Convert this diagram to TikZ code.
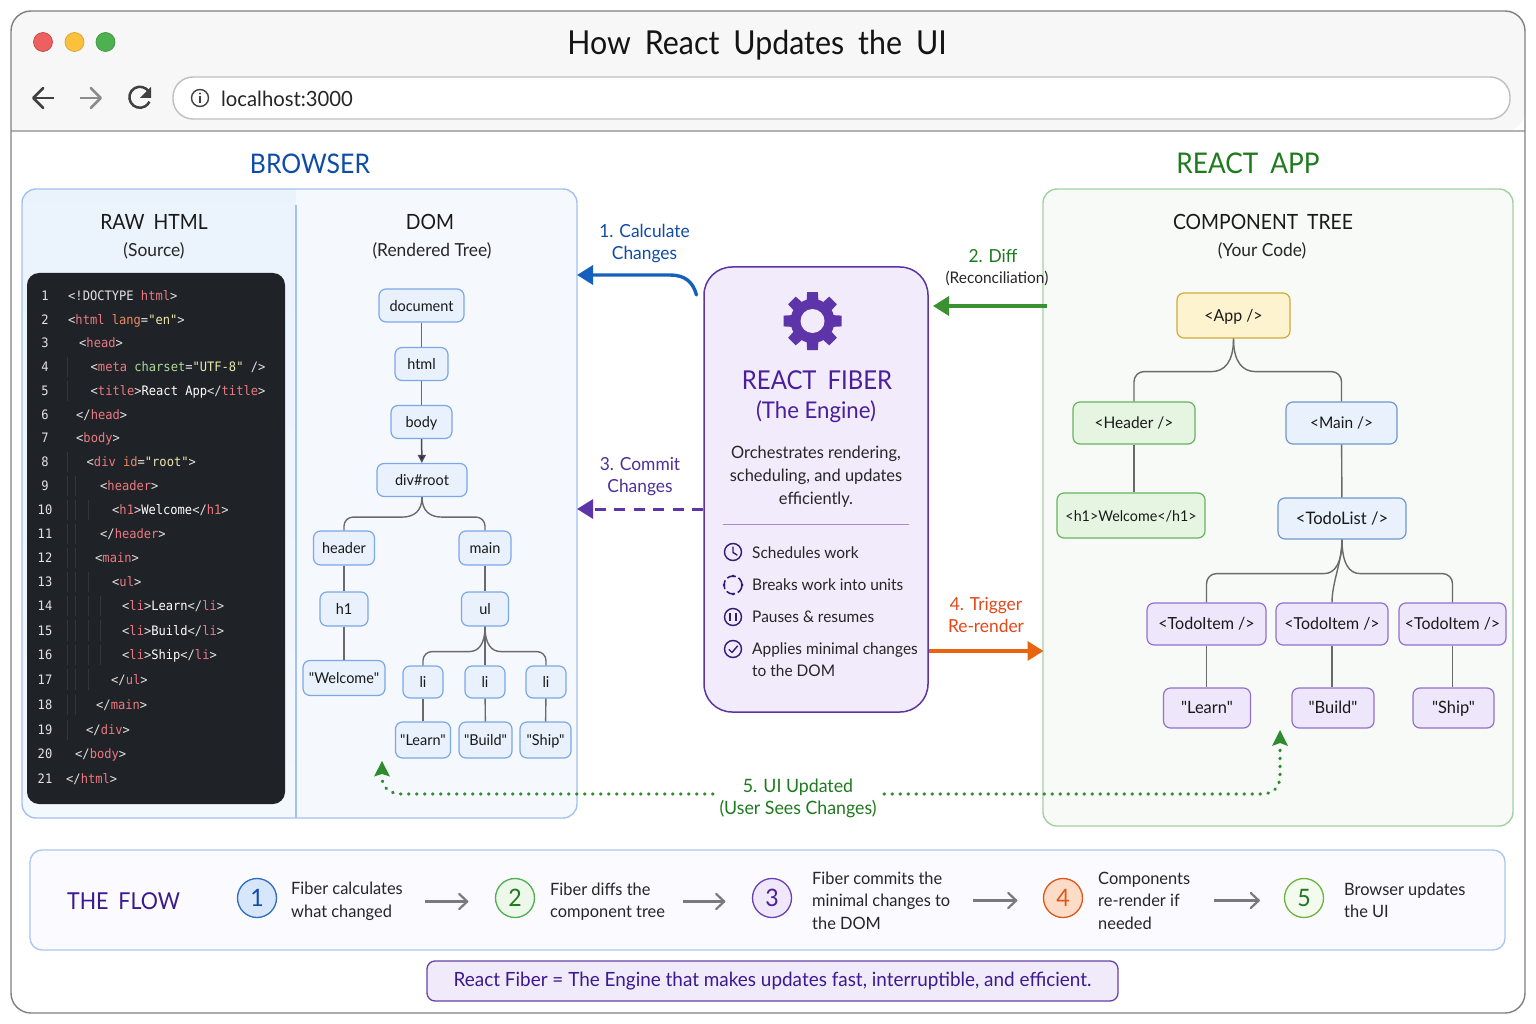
\documentclass[tikz,border=0pt]{standalone}
\usepackage{fontspec}
\usetikzlibrary{arrows.meta,calc}
\setmainfont[Ligatures=TeXOff,FakeStretch=0.965]{Lato}
\newfontfamily\rkhead[Ligatures=TeXOff,WordSpace=1.8,FakeStretch=0.92]{Lato}
\newfontfamily\rkcode[FakeStretch=0.93]{DejaVu Sans Mono}
\newcommand{\rkfs}[2]{\fontsize{#1}{#2}\selectfont}
\definecolor{codepink}{HTML}{EC7880}
\definecolor{codebrk}{HTML}{E2E2E2}
\definecolor{codeattr}{HTML}{EC8A62}
\definecolor{codegrn}{HTML}{ACDA9E}
\definecolor{codestr}{HTML}{EDE7AE}
\definecolor{codebg}{HTML}{1F2327}
\definecolor{fiberpurple}{HTML}{4A1F99}
\definecolor{flowpurple}{HTML}{3A1A8E}
\definecolor{gearpurple}{HTML}{5E35A8}
\definecolor{headblue}{HTML}{0F4CA8}
\definecolor{headgreen}{HTML}{1E7A1E}
\newcommand{\rkT}[1]{\textcolor{codepink}{#1}}
\newcommand{\rkA}[1]{\textcolor{codeattr}{#1}}
\newcommand{\rkG}[1]{\textcolor{codegrn}{#1}}
\newcommand{\rkS}[1]{\textcolor{codestr}{#1}}
\newcommand{\rkW}[1]{\textcolor{white}{#1}}
\newcommand{\rkcodeline}[4]{%
  \node[numtxt] (num#1) at (45,#2+4.5) {#1};
  \node[codetxt] (code#1) at (#3,#2+4.5) {#4};}
% fork: from south of #1, curve sideways, then a rounded turn down to north of #2
\newcommand{\rkfork}[5]{%
  \draw[link] (#1.south) .. controls +(0,{0.7*(#3)}) and +({-0.6*(#4)},0) .. ++(#4,#3)
     [rounded corners=#5] -| (#2.north);}
\tikzset{
  treebox/.style={draw,rounded corners=7pt,line width=1.2pt,align=center,inner sep=0pt,text=black!90,font=\rkfs{15}{18},text height=11pt,text depth=0pt},
  dombox/.style={treebox,draw=domline,fill=domfill},
  greenbox/.style={treebox,draw=grline,fill=grfill,font=\rkfs{16}{18},text height=11.2pt},
  bluebox/.style={treebox,draw=domline!90!black,fill=domfill,font=\rkfs{16.5}{18},text height=11.2pt},
  purplebox/.style={treebox,draw=puline,fill=pufill,font=\rkfs{16.5}{18},text height=11.2pt},
  yellowbox/.style={treebox,draw=yeline,fill=yefill,font=\rkfs{16.5}{18},text height=11.2pt},
  link/.style={draw=linkgrey,line width=1.4pt},
  numtxt/.style={anchor=base,inner sep=0pt,font=\rkcode\rkfs{13}{14},text=codebrk},
  codetxt/.style={anchor=base west,inner sep=0pt,font=\rkcode\rkfs{13}{14},text=codebrk},
  guide/.style={draw=guidegrey,line width=0.7pt},
  plain/.style={inner sep=0pt,align=center},
  lefttxt/.style={inner sep=0pt,anchor=west,align=left},
  flowtxt/.style={lefttxt,font=\rkfs{17}{22.5},text=black!85},
  fibertxt/.style={lefttxt,font=\rkfs{16}{22},text=black!85},
  step circle/.style={circle,draw,line width=1.3pt,minimum size=39pt,inner sep=0pt,font=\rkfs{24}{24}},
  flowarrow/.style={draw=flowgrey,line width=2.2pt,-{Straight Barb[length=8pt,width=15pt,round]}},
  head tip/.style={-{Triangle[length=16pt,width=19pt]}},
  icon/.style={draw=iconblue,line width=1.4pt},
  dotline/.style={draw=dotgreen,line width=3.2pt,line cap=round,dash pattern=on 0.6pt off 7.4pt}
}
\definecolor{domline}{HTML}{7CA8E6}
\definecolor{domfill}{HTML}{E8F1FC}
\definecolor{grline}{HTML}{66B35E}
\definecolor{grfill}{HTML}{E6F5E2}
\definecolor{puline}{HTML}{9270CB}
\definecolor{pufill}{HTML}{EEE6FA}
\definecolor{yeline}{HTML}{D2A93B}
\definecolor{yefill}{HTML}{FDF3CF}
\definecolor{linkgrey}{HTML}{6A6A6A}
\definecolor{guidegrey}{HTML}{31363A}
\definecolor{flowgrey}{HTML}{7A7A7A}
\definecolor{iconblue}{HTML}{2D1B78}
\definecolor{dotgreen}{HTML}{2E8B2E}
\begin{document}
\begin{tikzpicture}[x=1pt,y=-1pt]
\useasboundingbox (0,0) rectangle (1536,1024);
\fill[white] (0,0) rectangle (1536,1024);
% window
\node[draw=none,fill=white,rounded corners=20pt,minimum width=1514pt,minimum height=1002pt,inner sep=0pt] (window) at (768,512) {};
\fill[black!3,rounded corners=20pt] (11,131) -- (11,11) -- (1525,11) -- (1525,131) [sharp corners] -- cycle;
\draw[black!30,line width=1.6pt] (11,131) -- (1525,131);
\node[draw=black!50,line width=1.4pt,rounded corners=20pt,minimum width=1514pt,minimum height=1002pt,inner sep=0pt] (frame) at (768,512) {};
% traffic lights
\definecolor{lightred}{HTML}{EE5F5F}\definecolor{lightyel}{HTML}{FBC13C}\definecolor{lightgrn}{HTML}{4CB14E}
\node[circle,fill=lightred,draw=lightred!80!black,line width=.7pt,minimum size=19pt,inner sep=0pt] (lightr) at (43,42) {};
\node[circle,fill=lightyel,draw=lightyel!85!black,line width=.7pt,minimum size=19pt,inner sep=0pt] (lighty) at (74.5,42) {};
\node[circle,fill=lightgrn,draw=lightgrn!85!black,line width=.7pt,minimum size=19pt,inner sep=0pt] (lightg) at (105.5,42) {};
\node[plain,font=\rkhead\rkfs{33}{36},text=black!92] (title) at (757,45) {How React Updates the UI};
% nav
\draw[black!75,line width=2.5pt,-{Straight Barb[length=10pt,width=20pt,round]}] (54,98) -- (32,98);
\draw[black!45,line width=2.5pt,-{Straight Barb[length=10pt,width=20pt,round]}] (80,98) -- (102,98);
\draw[black!75,line width=2.5pt] (149,92) arc[start angle=-30,end angle=-335,radius=10.5];
\fill[black!75] (151,87) -- (151,98) -- (140,98) -- cycle;
\node[draw=black!25,fill=white,line width=1.4pt,rounded corners=20pt,minimum width=1337pt,minimum height=42pt,inner sep=0pt] (addr) at (841.5,98) {};
\draw[black!75,line width=1.4pt] (200,98) circle[radius=8.5];
\fill[black!75] (200,93.5) circle[radius=1.2];
\draw[black!75,line width=1.7pt] (200,96.5) -- (200,103);
\node[lefttxt,font=\rkfs{21}{24},text=black!85] (url) at (221,99) {localhost:3000};
% section headings
\node[plain,font=\rkhead\rkfs{27}{32},text=headblue] (hbrowser) at (310,163.5) {BROWSER};
\node[plain,font=\rkhead\rkfs{28.5}{32},text=headgreen] (hreact) at (1248,163.5) {REACT APP};
% browser panel
\node[draw=none,fill=domfill!45!white,rounded corners=14pt,minimum width=555pt,minimum height=629pt,inner sep=0pt] (browser) at (299.5,503.5) {};
\shade[top color=domfill!90!white,bottom color=domfill!50!white,rounded corners=14pt] (296,189) -- (22,189) -- (22,818) -- (296,818) [sharp corners] -- cycle;
\draw[draw=domline!70!white,line width=1.2pt] (296,205) -- (296,818);
\node[draw=domline!70!white,line width=1.4pt,rounded corners=14pt,minimum width=555pt,minimum height=629pt,inner sep=0pt] (browserframe) at (299.5,503.5) {};
% component panel
\node[draw=grline!60!white,fill=green!40!black!3!white,line width=1.4pt,rounded corners=14pt,minimum width=470pt,minimum height=637pt,inner sep=0pt] (reactpanel) at (1278,507.5) {};
% panel titles
\node[plain,font=\rkhead\rkfs{21}{26},text=black!90] (hraw) at (154,222) {RAW HTML};
\node[plain,font=\rkfs{18}{22},text=black!85] (sraw) at (154,251) {(Source)};
\node[plain,font=\rkhead\rkfs{21}{26},text=black!90] (hdom) at (430,222) {DOM};
\node[plain,font=\rkfs{18}{22},text=black!85] (sdom) at (432,251) {(Rendered Tree)};
\node[plain,font=\rkhead\rkfs{21}{26},text=black!90] (hcomp) at (1263,222) {COMPONENT TREE};
\node[plain,font=\rkfs{18}{22},text=black!85] (scomp) at (1262,251) {(Your Code)};
% code block
\node[fill=codebg,rounded corners=12pt,minimum width=258pt,minimum height=531pt,inner sep=0pt] (code) at (156,538.5) {};
\foreach \ya/\yb in {357/377,381/401,452/472,476/496,500/520,524/544,548/568,572/592,596/616,620/641,645/665,669/690,695/715,720/740}
  \draw[guide] (67,\ya) -- (67,\yb);
\foreach \ya/\yb in {476/496,500/520,524/544,548/568,572/592,596/616,620/641,645/665,669/690,695/715}
  \draw[guide] (75.5,\ya) -- (75.5,\yb);
\foreach \ya/\yb in {500/520,572/592,596/616,620/641,645/665,669/690}
  \draw[guide] (88,\ya) -- (88,\yb);
\foreach \ya/\yb in {596/616,620/641,645/665}
  \draw[guide] (100,\ya) -- (100,\yb);
\rkcodeline{1}{296}{68}{<!DOCTYPE \rkT{html}>}
\rkcodeline{2}{320}{68}{<\rkT{html} \rkA{lang}=\rkS{"en"}>}
\rkcodeline{3}{343}{79}{<\rkT{head}>}
\rkcodeline{4}{367}{90.5}{<\rkT{meta} \rkG{charset}=\rkS{"UTF-8"} />}
\rkcodeline{5}{391}{90.5}{<\rkT{title}>\rkW{React App}</\rkT{title}>}
\rkcodeline{6}{415}{76}{</\rkT{head}>}
\rkcodeline{7}{438}{76}{<\rkT{body}>}
\rkcodeline{8}{462}{86.5}{<\rkT{div} \rkA{id}=\rkS{"root"}>}
\rkcodeline{9}{486}{100}{<\rkT{header}>}
\rkcodeline{10}{510}{112}{<\rkT{h1}>\rkW{Welcome}</\rkT{h1}>}
\rkcodeline{11}{534}{100}{</\rkT{header}>}
\rkcodeline{12}{558}{95}{<\rkT{main}>}
\rkcodeline{13}{582}{112}{<\rkT{ul}>}
\rkcodeline{14}{606}{122}{<\rkT{li}>\rkW{Learn}</\rkT{li}>}
\rkcodeline{15}{631}{122}{<\rkT{li}>\rkW{Build}</\rkT{li}>}
\rkcodeline{16}{655}{122}{<\rkT{li}>\rkW{Ship}</\rkT{li}>}
\rkcodeline{17}{680}{111}{</\rkT{ul}>}
\rkcodeline{18}{705}{96}{</\rkT{main}>}
\rkcodeline{19}{730}{86}{</\rkT{div}>}
\rkcodeline{20}{754}{75}{</\rkT{body}>}
\rkcodeline{21}{779}{66}{</\rkT{html}>}
% DOM tree
\node[dombox,minimum width=85pt,minimum height=33pt] (ddoc) at (421.5,305.5) {document};
\node[dombox,minimum width=53pt,minimum height=33pt] (dhtml) at (421.5,364) {html};
\node[dombox,minimum width=61pt,minimum height=33pt] (dbody) at (421.5,422) {body};
\node[dombox,minimum width=90pt,minimum height=33pt] (droot) at (422,480) {div\#root};
\node[dombox,minimum width=61pt,minimum height=34pt] (dheader) at (344,548) {header};
\node[dombox,minimum width=52pt,minimum height=34pt] (dmain) at (485,548) {main};
\node[dombox,minimum width=48pt,minimum height=34pt] (dh1) at (344,609) {h1};
\node[dombox,minimum width=47pt,minimum height=34pt] (dul) at (485,609) {ul};
\node[dombox,minimum width=82pt,minimum height=35pt] (dwelcome) at (344,678) {"Welcome"};
\node[dombox,minimum width=40pt,minimum height=32pt] (dli1) at (423,682) {li};
\node[dombox,minimum width=40pt,minimum height=32pt] (dli2) at (485,682) {li};
\node[dombox,minimum width=40pt,minimum height=32pt] (dli3) at (546,682) {li};
\node[dombox,minimum width=55pt,minimum height=36pt] (dlearn) at (423,740) {"Learn"};
\node[dombox,minimum width=53pt,minimum height=36pt] (dbuild) at (485.5,740) {"Build"};
\node[dombox,minimum width=51pt,minimum height=36pt] (dship) at (545.5,740) {"Ship"};
\draw[link] (ddoc) -- (dhtml);
\draw[link] (dhtml) -- (dbody);
\draw[line width=1.5pt,draw=black!70,-{Triangle[length=8pt,width=8pt,fill=iconblue!90!blue]}] (dbody) -- (droot);
\rkfork{droot}{dheader}{20}{-20}{9pt}
\rkfork{droot}{dmain}{20}{20}{9pt}
\draw[link] (dheader) -- (dh1);
\draw[link] (dmain) -- (dul);
\draw[link] (dh1) -- (dwelcome);
\rkfork{dul}{dli1}{25}{-16}{9pt}
\draw[link] (dul) -- (dli2);
\rkfork{dul}{dli3}{25}{16}{9pt}
\draw[link] (dli1) -- (dlearn);
\draw[link] (dli2) -- (dbuild);
\draw[link] (dli3) -- (dship);
% component tree
\node[yellowbox,minimum width=113pt,minimum height=45pt] (capp) at (1233.5,315.5) {<App />};
\node[greenbox,minimum width=122pt,minimum height=42pt] (cheader) at (1134,423) {<Header />};
\node[greenbox,minimum width=148pt,minimum height=45pt,font=\rkfs{14.8}{18}] (ch1) at (1131,515.5) {<h1>Welcome</h1>};
\node[bluebox,minimum width=111pt,minimum height=42pt,font=\rkfs{16}{18}] (cmain) at (1341.5,423) {<Main />};
\node[bluebox,minimum width=128pt,minimum height=41pt,font=\rkfs{17.2}{18}] (clist) at (1342,518.5) {<TodoList />};
\node[purplebox,minimum width=119pt,minimum height=42pt,font=\rkfs{16.7}{18}] (citem1) at (1206.5,624) {<TodoItem />};
\node[purplebox,minimum width=112pt,minimum height=42pt] (citem2) at (1332,624) {<TodoItem />};
\node[purplebox,minimum width=107pt,minimum height=42pt] (citem3) at (1452.5,624) {<TodoItem />};
\node[purplebox,minimum width=87pt,minimum height=40pt,font=\rkfs{17}{18}] (clearn) at (1207,708) {"Learn"};
\node[purplebox,minimum width=82pt,minimum height=40pt,font=\rkfs{17}{18}] (cbuild) at (1333,708) {"Build"};
\node[purplebox,minimum width=81pt,minimum height=40pt,font=\rkfs{17}{18}] (cship) at (1453.5,708) {"Ship"};
\rkfork{capp}{cheader}{33}{-22}{10pt}
\rkfork{capp}{cmain}{33}{22}{10pt}
\draw[link] (cheader.south) -- (cheader.south |- ch1.north);
\draw[link] (cmain) -- (clist);
\rkfork{clist}{citem1}{34}{-18}{10pt}
\rkfork{clist}{citem3}{34}{18}{10pt}
\draw[link] (clist.south) .. controls +(0,22) and +(0,-20) .. (citem2.north);
\draw[link] (citem1.south) -- (citem1.south |- clearn.north);
\draw[link] (citem2.south) -- (citem2.south |- cbuild.north);
\draw[link] (citem3.south) -- (citem3.south |- cship.north);
% fiber
\node[draw=fiberpurple!90!white,fill=pufill!80!white,line width=1.5pt,rounded corners=28pt,minimum width=224pt,minimum height=445pt,inner sep=0pt] (fiber) at (816,489.5) {};
\begin{scope}[shift={(812.5,321)}]
  \foreach \a in {0,45,...,315}
    \fill[rotate=\a,color=gearpurple] (-7,0) -- (-5.4,-29) -- (5.4,-29) -- (7,0) -- cycle;
  \fill[color=gearpurple] (0,0) circle[radius=22];
  \fill[pufill!80!white] (0,0) circle[radius=12];
\end{scope}
\node[plain,font=\rkhead\rkfs{26}{30},text=fiberpurple] (ftitle) at (817,380.5) {REACT FIBER};
\node[plain,font=\rkfs{23}{27},text=fiberpurple] (fsub) at (816,412) {(The Engine)};
\node[plain,font=\rkfs{17}{23},text=black!85] (fdesc) at (816,476.5) {Orchestrates rendering,\\scheduling, and updates\\efficiently.};
\draw[draw=puline!80!white,line width=1pt] (723,524) -- (909,524);
\draw[icon] (733,552) circle[radius=8.5];
\draw[icon,line cap=round] (733,547) -- (733,552.5) -- (737,555);
\draw[icon,dash pattern=on 9pt off 3pt,line width=1.5pt] (733,585) circle[radius=9];
\fill[iconblue] (733,576) circle[radius=1.5] (733,594) circle[radius=1.5] (724,585) circle[radius=1.5] (742,585) circle[radius=1.5];
\draw[icon] (733,617) circle[radius=8.5];
\draw[icon] (730,613) -- (730,621) (736,613) -- (736,621);
\draw[icon] (733,649) circle[radius=8.5];
\draw[icon,line cap=round,line join=round] (729,649.5) -- (732,652.5) -- (737.5,646);
\node[fibertxt] (f1) at (752,553) {Schedules work};
\node[fibertxt] (f2) at (752,585) {Breaks work into units};
\node[fibertxt] (f3) at (752,617) {Pauses \& resumes};
\node[fibertxt] (f4) at (752,660) {Applies minimal changes\\to the DOM};
% connectors round the fiber box
\node[plain,font=\rkfs{18}{22},text=headblue] (l1) at (644.5,244) {1. Calculate\\Changes};
\node[plain,font=\rkfs{18}{22},text=flowpurple!90!white] (l3) at (640,477) {3. Commit\\Changes};
\node[plain,font=\rkfs{18}{22},text=headgreen] (l2a) at (993,256) {2. Diff};
\node[plain,font=\rkfs{16}{20},text=black!85] (l2b) at (997,278) {(Reconciliation)};
\definecolor{trigred}{HTML}{E2481A}
\node[plain,font=\rkfs{18}{22},text=trigred] (l4) at (986,615) {4. Trigger\\Re-render};
\coordinate (calcfrom) at (696.5,295);
\coordinate (calcto) at (577,275);
\coordinate (difffrom) at (1047,306);
\coordinate (diffto) at (933,306);
\coordinate (commitfrom) at (703,509);
\coordinate (committo) at (577,509);
\coordinate (trigfrom) at (929,651);
\coordinate (trigto) at (1043.5,651);
\definecolor{arrblue}{HTML}{1560BD}\definecolor{arrgreen}{HTML}{3A9132}\definecolor{arrorange}{HTML}{E8650F}
\draw[draw=arrblue,line width=3.4pt,line cap=round,head tip] (calcfrom) .. controls (693,282) and (685,275) .. (670,275) -- (calcto);
\draw[draw=arrgreen,line width=3.4pt,head tip] (difffrom) -- (diffto);
\draw[draw=gearpurple,line width=3pt,dash pattern=on 11pt off 8.5pt,head tip] (commitfrom) -- (committo);
\draw[draw=arrorange,line width=3.4pt,head tip] (trigfrom) -- (trigto);
% update arrows
\node[plain,font=\rkfs{18.4}{22},text=headgreen] (l5) at (798,798) {5. UI Updated\\(User Sees Changes)};
\coordinate (domtip) at (382,761);
\coordinate (comptip) at (1280,730);
\coordinate (dotleft) at (713,794);
\coordinate (dotright) at (884,794);
\draw[dotline] (dotleft) -- (402,794) .. controls (390,794) and (382,788) .. (382,777);
\draw[dotline] (dotright) -- (1262,794) .. controls (1273,794) and (1280,787) .. (1280,776) -- (1280,746);
\fill[dotgreen] (domtip) -- (390,776.5) -- (382,774) -- (374,776.5) -- cycle;
\fill[dotgreen] (comptip) -- (1288,746) -- (1280,743) -- (1272,746) -- cycle;
% flow
\node[draw=domline!65!white,fill=blue!2!white,line width=1.3pt,rounded corners=12pt,minimum width=1475pt,minimum height=100pt,inner sep=0pt] (flow) at (767.5,900) {};
\node[plain,font=\rkhead\rkfs{23.3}{28},text=flowpurple] (flowt) at (123.5,901.5) {THE FLOW};
\definecolor{s1l}{HTML}{2C6CC4}\definecolor{s1f}{HTML}{D8E6FB}\definecolor{s2l}{HTML}{4CAF50}\definecolor{s2f}{HTML}{EDF7EA}
\definecolor{s3l}{HTML}{6A3FB5}\definecolor{s3f}{HTML}{F0E8FA}\definecolor{s4l}{HTML}{E0561A}\definecolor{s4f}{HTML}{FCDCC6}
\definecolor{s5l}{HTML}{6CB33F}\definecolor{s5f}{HTML}{F3FBEE}
\node[step circle,draw=s1l,fill=s1f,text=headblue] (s1) at (257,898) {1};
\node[step circle,draw=s2l,fill=s2f,text=headgreen] (s2) at (515,898) {2};
\node[step circle,draw=s3l,fill=s3f,text=fiberpurple] (s3) at (772,898) {3};
\node[step circle,draw=s4l,fill=s4f,text=s4l] (s4) at (1063,898) {4};
\node[step circle,draw=s5l,fill=s5f,text=headgreen] (s5) at (1304,898) {5};
\node[flowtxt] (t1) at (291,901.5) {Fiber calculates\\what changed};
\node[flowtxt] (t2) at (550,901.5) {Fiber diffs the\\component tree};
\node[flowtxt] (t3) at (812,900.5) {Fiber commits the\\minimal changes to\\the DOM};
\node[flowtxt] (t4) at (1098,900.5) {Components\\re-render if\\needed};
\node[flowtxt] (t5) at (1344,900.5) {Browser updates\\the UI};
\draw[flowarrow] ([xshift=22pt]t1.east) -- ([xshift=-26.5pt]s2.west |- t1.east);
\draw[flowarrow] ([xshift=18pt]t2.east) -- ([xshift=-26.5pt]s3.west |- t2.east);
\draw[flowarrow] ([xshift=23pt]t3.east) -- ([xshift=-25.5pt]s4.west |- t3.east);
\draw[flowarrow] ([xshift=24pt]t4.east) -- ([xshift=-24pt]s5.west |- t4.east);
% banner
\node[draw=fiberpurple!85!white,fill=pufill!85!white,line width=1.3pt,rounded corners=8pt,minimum width=691pt,minimum height=40pt,inner sep=0pt,font=\rkfs{19.6}{24},text=flowpurple] (banner) at (772.5,981) {\raisebox{-1.5pt}{React Fiber = The Engine that makes updates fast, interruptible, and efficient.}};
\end{tikzpicture}
\end{document}
